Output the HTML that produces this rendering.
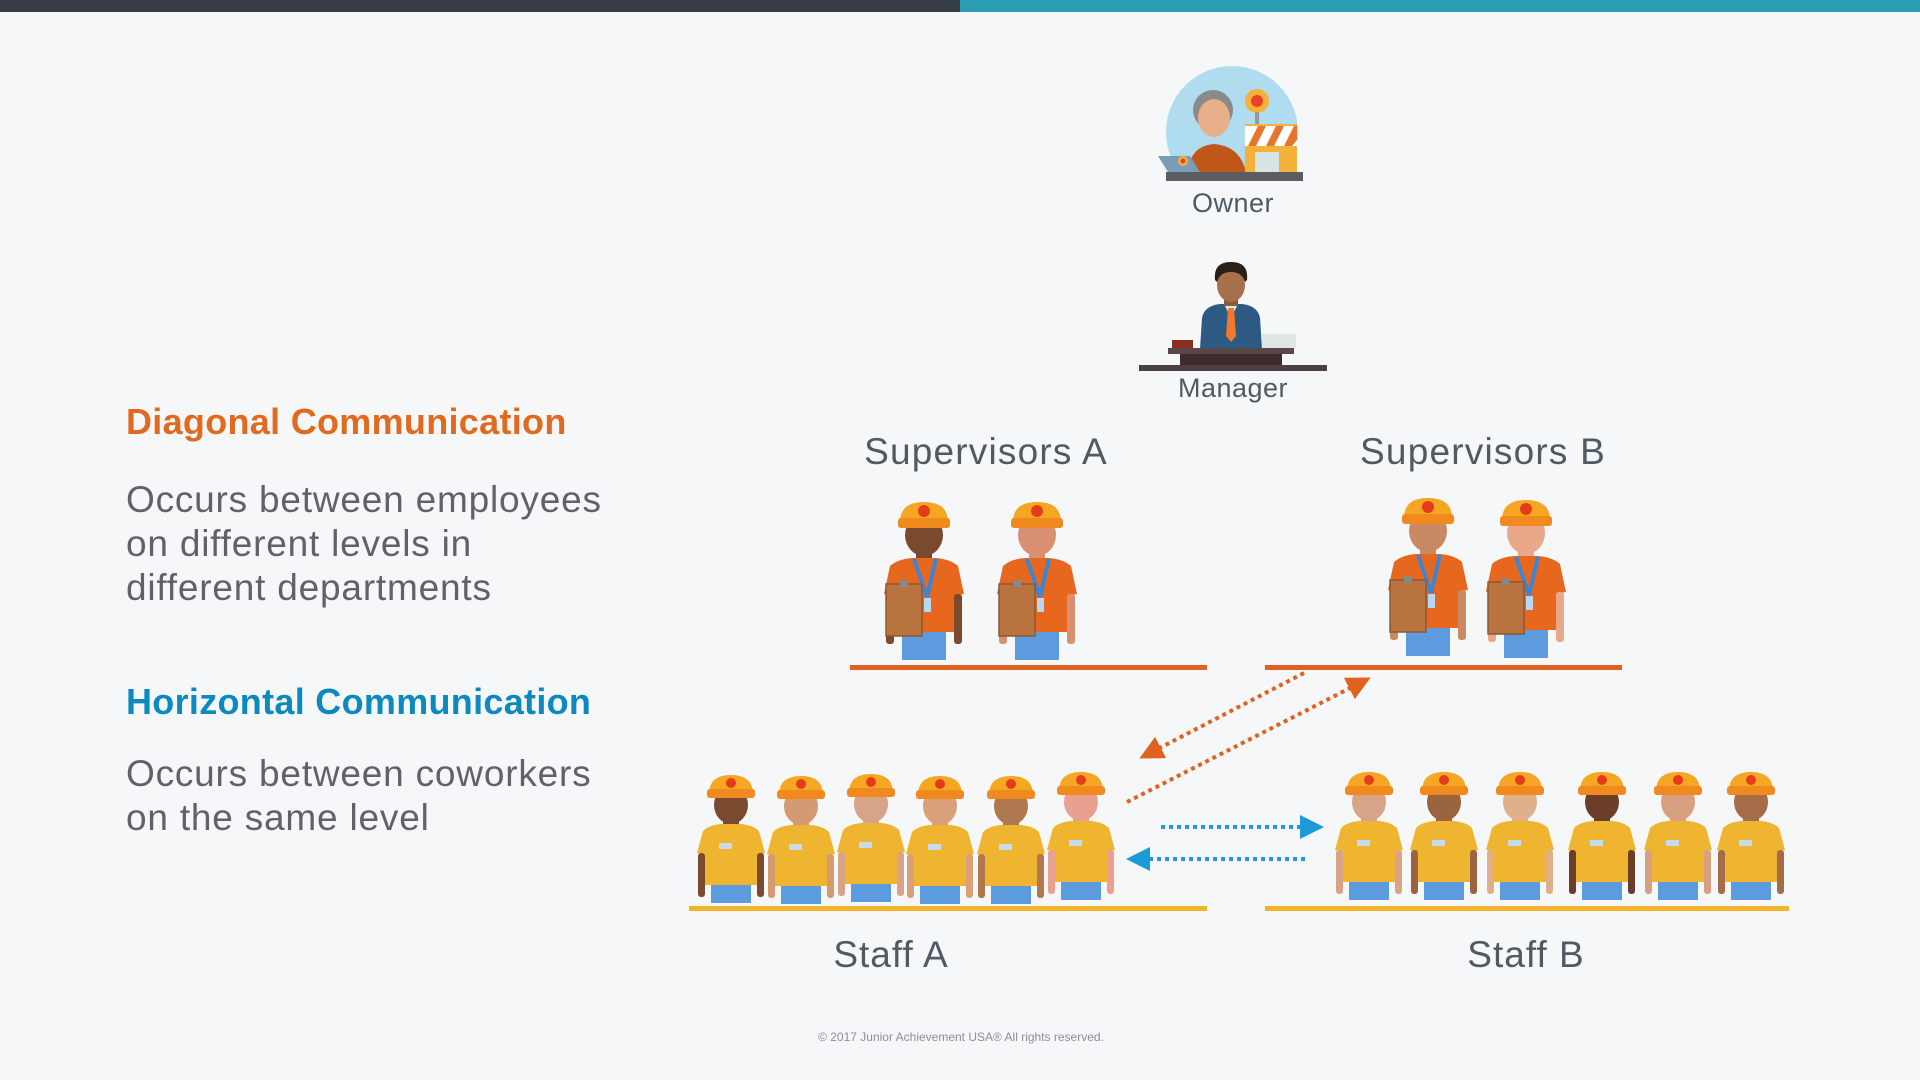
<!DOCTYPE html>
<html><head><meta charset="utf-8"><style>
html,body{margin:0;padding:0;}
body{width:1920px;height:1080px;background:#f6f7f9;position:relative;overflow:hidden;font-family:"Liberation Sans",sans-serif;}
.t{position:absolute;white-space:nowrap;}
</style></head><body>
<div style="position:absolute;left:0;top:0;width:960px;height:12px;background:#363d45"></div>
<div style="position:absolute;left:960px;top:0;width:960px;height:12px;background:#2a9db5"></div>

<div class="t" style="left:126px;top:401px;font-size:36px;font-weight:bold;color:#e06a1f;letter-spacing:0.3px">Diagonal Communication</div>
<div class="t" style="left:126px;top:478px;font-size:37px;line-height:44px;color:#5f6368;letter-spacing:0.8px">Occurs between employees<br>on different levels in<br>different departments</div>
<div class="t" style="left:126px;top:681px;font-size:36px;font-weight:bold;color:#0c8abf;letter-spacing:0.3px">Horizontal Communication</div>
<div class="t" style="left:126px;top:752px;font-size:37px;line-height:44px;color:#5f6368;letter-spacing:0.8px">Occurs between coworkers<br>on the same level</div>

<div class="t" style="left:1133px;width:200px;text-align:center;top:188px;font-size:27px;color:#4f5a63;letter-spacing:0.5px">Owner</div>
<div class="t" style="left:1133px;width:200px;text-align:center;top:373px;font-size:27px;color:#4f5a63;letter-spacing:0.5px">Manager</div>
<div class="t" style="left:836px;width:300px;text-align:center;top:431px;font-size:37px;color:#4f5a63;letter-spacing:1.2px">Supervisors A</div>
<div class="t" style="left:1333px;width:300px;text-align:center;top:431px;font-size:37px;color:#4f5a63;letter-spacing:1.2px">Supervisors B</div>
<div class="t" style="left:791px;width:200px;text-align:center;top:934px;font-size:37px;color:#4f5a63;letter-spacing:1px">Staff A</div>
<div class="t" style="left:1426px;width:200px;text-align:center;top:934px;font-size:37px;color:#4f5a63;letter-spacing:1px">Staff B</div>
<div class="t" style="left:761px;width:400px;text-align:center;top:1030px;font-size:12px;color:#8a8f94;">© 2017 Junior Achievement USA® All rights reserved.</div>

<svg width="1920" height="1080" style="position:absolute;left:0;top:0">
<defs>
<symbol id="staff" overflow="visible">
  <rect x="-8" y="42" width="16" height="12" fill="var(--skin)"/>
  <path d="M-34,78 L-28,56 Q-22,50 -10,49 L10,49 Q22,50 28,56 L34,78 L26,80 L26,110 L-26,110 L-26,80 Z" fill="#f0b530"/>
  <rect x="-33" y="78" width="7" height="44" rx="3" fill="var(--skin)"/>
  <rect x="26" y="78" width="7" height="44" rx="3" fill="var(--skin)"/>
  <rect x="-20" y="110" width="40" height="18" fill="#5b9bde"/>
  <rect x="-12" y="68" width="13" height="6" fill="#c6dcec"/>
  <ellipse cx="0" cy="30" rx="17" ry="19" fill="var(--skin)"/>
  <path d="M-22,19 Q-22,0 0,0 Q22,0 22,19 Z" fill="#f5a623"/>
  <rect x="-24" y="14" width="48" height="9" rx="3" fill="#f08a1e"/>
  <circle cx="0" cy="8" r="5" fill="#e63b1a"/>
</symbol>
<symbol id="sup" overflow="visible">
  <rect x="-8" y="46" width="16" height="12" fill="var(--skin)"/>
  <path d="M-40,92 L-34,64 Q-26,57 -12,56 L12,56 Q26,57 34,64 L40,92 L30,94 L30,130 L-30,130 L-30,94 Z" fill="#e8671e"/>
  <rect x="-38" y="92" width="8" height="50" rx="3" fill="var(--skin)"/>
  <rect x="30" y="92" width="8" height="50" rx="3" fill="var(--skin)"/>
  <rect x="-22" y="130" width="44" height="28" fill="#5b9bde"/>
  <path d="M-10,57 L3,95 M12,57 L3,95" stroke="#3b86d4" stroke-width="4" fill="none"/>
  <rect x="0" y="96" width="7" height="14" fill="#b6d8f2"/>
  <rect x="-38" y="82" width="36" height="52" fill="#b8733f" stroke="#8a5a35" stroke-width="1.5"/>
  <rect x="-24" y="78" width="8" height="7" fill="#888"/>
  <ellipse cx="0" cy="33" rx="19" ry="21" fill="var(--skin)"/>
  <path d="M-24,20 Q-24,0 0,0 Q24,0 24,20 Z" fill="#f5a623"/>
  <rect x="-26" y="16" width="52" height="10" rx="3" fill="#f08a1e"/>
  <circle cx="0" cy="9" r="6" fill="#e63b1a"/>
</symbol>
<marker id="ao" markerWidth="6" markerHeight="6" refX="3" refY="3" orient="auto" markerUnits="strokeWidth"><path d="M0,0 L6,3 L0,6 Z" fill="#e0621f"/></marker>
<marker id="ab" markerWidth="6" markerHeight="6" refX="3" refY="3" orient="auto" markerUnits="strokeWidth"><path d="M0,0 L6,3 L0,6 Z" fill="#1a9ad6"/></marker>
<clipPath id="oc"><rect x="1100" y="40" width="300" height="133"/></clipPath>
</defs>

<!-- Owner -->
<g clip-path="url(#oc)">
<circle cx="1232" cy="132" r="66" fill="#b0dcf0"/>
<circle cx="1213" cy="110" r="20" fill="#8a8a8a"/>
<ellipse cx="1214" cy="118" rx="16" ry="19" fill="#e8b08a"/>
<path d="M1188,172 Q1190,146 1214,144 Q1240,146 1246,172 Z" fill="#c0561a"/>
<circle cx="1257" cy="101" r="12" fill="#f4b23a"/><circle cx="1257" cy="101" r="6" fill="#e8432a"/>
<rect x="1255" y="112" width="4" height="14" fill="#999"/>
<rect x="1245" y="124" width="52" height="48" fill="#f4b23a"/>
<path d="M1245,126 L1297,126 L1297,146 L1245,146 Z" fill="#fff"/>
<path d="M1248,146 L1258,126 L1266,126 L1256,146Z M1266,146 L1276,126 L1284,126 L1274,146Z M1284,146 L1294,126 L1297,126 L1297,140 L1292,146Z" fill="#e8762a"/>
<rect x="1255" y="152" width="24" height="20" fill="#d6e4e6"/>
</g>
<path d="M1158,156 L1190,156 L1200,172 L1168,172 Z" fill="#7a9cb4"/>
<circle cx="1183" cy="161" r="5" fill="#f4b23a"/><circle cx="1183" cy="161" r="2.5" fill="#e8432a"/>
<rect x="1166" y="172" width="137" height="9" fill="#5a5e63"/>

<!-- Manager -->
<path d="M1200,349 L1202,318 Q1204,306 1220,304 L1242,304 Q1258,306 1260,318 L1262,349 Z" fill="#2d5a82"/>
<path d="M1224,304 L1231,318 L1238,304 Z" fill="#d8ecf2"/>
<path d="M1228,308 L1234,308 L1236,336 L1231,342 L1226,336 Z" fill="#f07a2a"/>
<rect x="1224" y="294" width="14" height="12" fill="#8a5a3a"/>
<ellipse cx="1231" cy="285" rx="14" ry="17" fill="#a8704a"/>
<path d="M1215,280 Q1213,262 1231,262 Q1249,262 1247,280 L1245,282 Q1242,272 1231,272 Q1220,272 1217,282Z" fill="#2b2018"/>
<rect x="1172" y="340" width="21" height="8" fill="#8a2e22"/>
<rect x="1262" y="334" width="34" height="14" fill="#dfe7e6"/>
<rect x="1168" y="348" width="126" height="6" fill="#5a4648"/>
<rect x="1180" y="354" width="102" height="12" fill="#3e2c2e"/>
<rect x="1139" y="365" width="188" height="6" fill="#4b4043"/>

<!-- Lines -->
<rect x="850" y="665" width="357" height="5" fill="#e0621f"/>
<rect x="1265" y="665" width="357" height="5" fill="#e0621f"/>
<rect x="689" y="906" width="518" height="5" fill="#f0b52a"/>
<rect x="1265" y="906" width="524" height="5" fill="#f0b52a"/>

<!-- Supervisors -->
<use href="#sup" x="924" y="502" style="--skin:#7a4a2e"/>
<use href="#sup" x="1037" y="502" style="--skin:#d99070"/>
<use href="#sup" x="1428" y="498" style="--skin:#c88a62"/>
<use href="#sup" x="1526" y="500" style="--skin:#eaa88a"/>

<!-- Staff A -->
<use href="#staff" x="731" y="775" style="--skin:#7a4a2e"/>
<use href="#staff" x="801" y="776" style="--skin:#d49a72"/>
<use href="#staff" x="871" y="774" style="--skin:#d8a488"/>
<use href="#staff" x="940" y="776" style="--skin:#d9a07a"/>
<use href="#staff" x="1011" y="776" style="--skin:#b0784e"/>
<use href="#staff" x="1081" y="772" style="--skin:#eaa090"/>
<!-- Staff B -->
<use href="#staff" x="1369" y="772" style="--skin:#d8a488"/>
<use href="#staff" x="1444" y="772" style="--skin:#9a6440"/>
<use href="#staff" x="1520" y="772" style="--skin:#e0b08a"/>
<use href="#staff" x="1602" y="772" style="--skin:#6a3e28"/>
<use href="#staff" x="1678" y="772" style="--skin:#d8a080"/>
<use href="#staff" x="1751" y="772" style="--skin:#a46c48"/>

<!-- Arrows -->
<line x1="1304" y1="673" x2="1150" y2="753" stroke="#e0621f" stroke-width="4" stroke-dasharray="4 4" marker-end="url(#ao)"/>
<line x1="1127" y1="802" x2="1360" y2="683" stroke="#e0621f" stroke-width="4" stroke-dasharray="4 4" marker-end="url(#ao)"/>
<line x1="1161" y1="827" x2="1312" y2="827" stroke="#1a9ad6" stroke-width="4" stroke-dasharray="4 4" marker-end="url(#ab)"/>
<line x1="1305" y1="859" x2="1138" y2="859" stroke="#1a9ad6" stroke-width="4" stroke-dasharray="4 4" marker-end="url(#ab)"/>
</svg>
</body></html>
